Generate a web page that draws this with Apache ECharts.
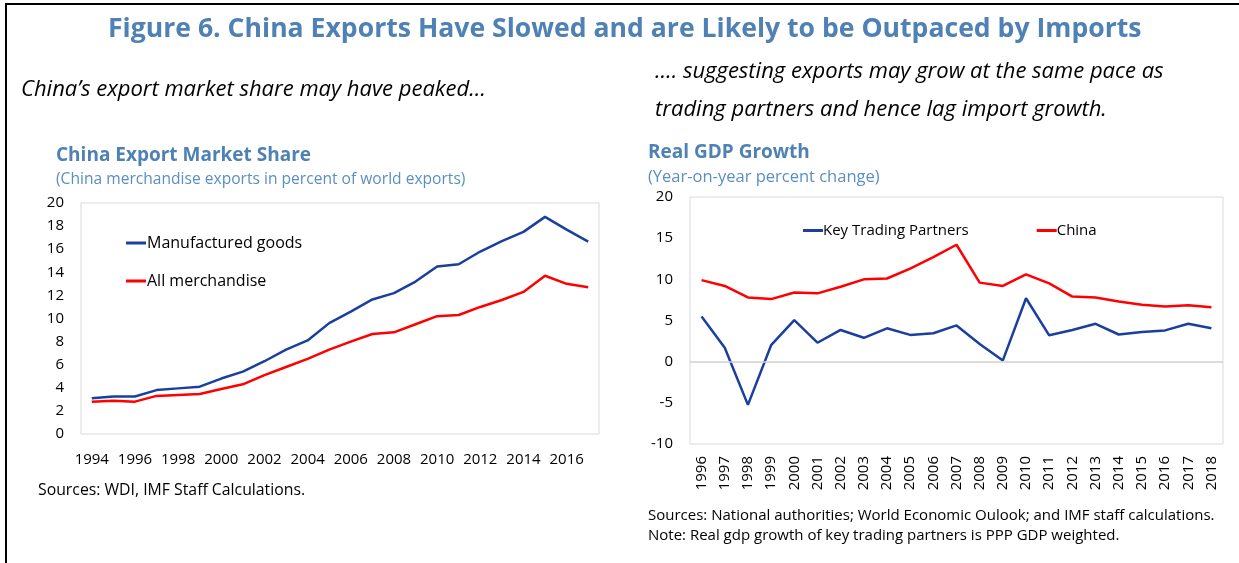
<!DOCTYPE html>
<html>
<head>
<meta charset="utf-8">
<script src="https://cdn.jsdelivr.net/npm/echarts@6/dist/echarts.min.js"></script>
<style>
  html, body { margin: 0; padding: 0; background: #fff; }
  #chart { width: 1239px; height: 563px; }
</style>
</head>
<body>
<div id="chart"></div>
<script>
// left chart: export market share
const shareYears = ['1994','1995','1996','1997','1998','1999','2000','2001','2002','2003','2004','2005',
  '2006','2007','2008','2009','2010','2011','2012','2013','2014','2015','2016','2017']
const manufactured = [3.1, 3.25, 3.25, 3.8, 3.95, 4.1, 4.8, 5.4, 6.3, 7.3, 8.1, 9.6,
  10.6, 11.65, 12.2, 13.2, 14.5, 14.7, 15.8, 16.7, 17.5, 18.8, 17.7, 16.65]
const allMerch = [2.8, 2.88, 2.8, 3.3, 3.38, 3.46, 3.9, 4.3, 5.1, 5.8, 6.5, 7.3,
  8.0, 8.66, 8.8, 9.5, 10.2, 10.3, 11.0, 11.6, 12.3, 13.7, 13.0, 12.7]

// right chart: real gdp growth
const gdpYears = ['1996','1997','1998','1999','2000','2001','2002','2003','2004','2005','2006','2007',
  '2008','2009','2010','2011','2012','2013','2014','2015','2016','2017','2018']
const tradingPartners = [5.5, 1.7, -5.25, 2.0, 5.05, 2.3, 3.85, 2.9, 4.05, 3.25, 3.45, 4.4,
  2.15, 0.15, 7.7, 3.2, 3.85, 4.6, 3.3, 3.6, 3.8, 4.6, 4.05]
const chinaGdp = [9.9, 9.2, 7.8, 7.6, 8.4, 8.3, 9.1, 10.0, 10.1, 11.3, 12.7, 14.2,
  9.6, 9.2, 10.6, 9.5, 7.9, 7.8, 7.3, 6.9, 6.7, 6.85, 6.6]

const FONT = '"Open Sans", "Noto Sans", sans-serif'
const TITLE_BLUE = '#4f81b4'
const SUB_BLUE = '#5a8fc2'
const LINE_BLUE = '#1b3f9e'
const LINE_RED = '#ff0000'

const chart = echarts.init(document.getElementById('chart'))

function txt(text, left, top, size, opts) {
  return Object.assign({
    text: text,
    left: left,
    top: top,
    padding: 0,
    textStyle: Object.assign({
      fontFamily: FONT,
      fontSize: size,
      fontWeight: 'normal',
      color: '#000',
      lineHeight: Math.round(size * 1.3)
    }, (opts && opts.style) || {})
  }, (opts && opts.extra) || {})
}

const axisText = { fontFamily: FONT, fontSize: 15, color: '#000' }

chart.setOption({
  animation: false,
  title: [
    txt('Figure 6. China Exports Have Slowed and are Likely to be Outpaced by Imports', 108, 12, 26.6,
      { style: { fontWeight: 'bold', color: TITLE_BLUE, lineHeight: 34 } }),
    txt('China\u2019s export market share may have peaked\u2026', 21, 75, 22,
      { style: { fontStyle: 'italic', lineHeight: 29 } }),
    txt('\u2026. suggesting exports may grow at the same pace as\ntrading partners and hence lag import growth.', 655, 53, 22,
      { style: { fontStyle: 'italic', lineHeight: 38 } }),
    txt('China Export Market Share', 56, 143, 19, { style: { fontWeight: 'bold', color: TITLE_BLUE } }),
    txt('(China merchandise exports in percent of world exports)', 56, 170, 15.6, { style: { color: SUB_BLUE, lineHeight: 20 } }),
    txt('Real GDP Growth', 648, 140, 19, { style: { fontWeight: 'bold', color: TITLE_BLUE } }),
    txt('(Year-on-year percent change)', 648, 167, 16.5, { style: { color: SUB_BLUE, lineHeight: 20 } }),
    txt('Sources: WDI, IMF Staff Calculations.', 38, 480, 15.8, { style: { lineHeight: 20 } }),
    txt('Sources: National authorities; World Economic Oulook; and IMF staff calculations.\nNote: Real gdp growth of key trading partners is PPP GDP weighted.', 648, 506, 15,
      { style: { lineHeight: 20 } })
  ],
  graphic: [
    { type: 'line', shape: { x1: 5, y1: 4, x2: 1239, y2: 4 }, style: { stroke: '#000', lineWidth: 2 } },
    { type: 'line', shape: { x1: 6, y1: 4, x2: 6, y2: 563 }, style: { stroke: '#000', lineWidth: 2 } }
  ],
  legend: [
    {
      orient: 'vertical',
      left: 126,
      top: 235,
      itemWidth: 20,
      itemHeight: 3,
      itemGap: 22,
      icon: 'rect',
      padding: 0,
      textStyle: { fontFamily: FONT, fontSize: 16, color: '#000', padding: [0, 0, 0, -4] },
      data: ['Manufactured goods', 'All merchandise']
    },
    {
      orient: 'horizontal',
      left: 803,
      top: 223,
      itemWidth: 20,
      itemHeight: 3,
      itemGap: 68,
      icon: 'rect',
      padding: 0,
      textStyle: { fontFamily: FONT, fontSize: 15, color: '#000', padding: [0, 0, 0, -5] },
      data: ['Key Trading Partners', 'China']
    }
  ],
  grid: [
    { left: 81, top: 203, width: 518, height: 231, show: true, borderColor: '#d9d9d9', borderWidth: 1 },
    { left: 690, top: 197, width: 533, height: 247, show: true, borderColor: '#d9d9d9', borderWidth: 1 }
  ],
  xAxis: [
    {
      type: 'category',
      gridIndex: 0,
      data: shareYears,
      boundaryGap: true,
      axisLine: { show: false },
      axisTick: { show: false },
      axisLabel: Object.assign({ interval: 1, margin: 18 }, axisText)
    },
    {
      type: 'category',
      gridIndex: 1,
      data: gdpYears,
      boundaryGap: true,
      axisLine: { show: false },
      axisTick: { show: false },
      axisLabel: Object.assign({ interval: 0, rotate: 90, margin: 12 }, axisText)
    }
  ],
  yAxis: [
    {
      type: 'value',
      gridIndex: 0,
      min: 0,
      max: 20,
      interval: 2,
      splitLine: { show: false },
      axisLine: { show: false },
      axisTick: { show: false },
      axisLabel: Object.assign({ margin: 17 }, axisText)
    },
    {
      type: 'value',
      gridIndex: 1,
      min: -10,
      max: 20,
      interval: 5,
      splitLine: { show: false },
      axisLine: { show: false },
      axisTick: { show: false },
      axisLabel: Object.assign({ margin: 17 }, axisText)
    }
  ],
  series: [
    {
      name: 'Manufactured goods', type: 'line', xAxisIndex: 0, yAxisIndex: 0,
      data: manufactured, symbol: 'none', color: LINE_BLUE, lineStyle: { width: 2.5, color: LINE_BLUE }
    },
    {
      name: 'All merchandise', type: 'line', xAxisIndex: 0, yAxisIndex: 0,
      data: allMerch, symbol: 'none', color: LINE_RED, lineStyle: { width: 2.5, color: LINE_RED }
    },
    {
      name: 'Key Trading Partners', type: 'line', xAxisIndex: 1, yAxisIndex: 1,
      data: tradingPartners, symbol: 'none', color: LINE_BLUE, lineStyle: { width: 2.5, color: LINE_BLUE },
      markLine: {
        silent: true,
        symbol: 'none',
        label: { show: false },
        lineStyle: { color: '#d0d0d0', width: 1.5, type: 'solid' },
        data: [{ yAxis: 0 }]
      }
    },
    {
      name: 'China', type: 'line', xAxisIndex: 1, yAxisIndex: 1,
      data: chinaGdp, symbol: 'none', color: LINE_RED, lineStyle: { width: 2.5, color: LINE_RED }
    }
  ]
})
</script>
</body>
</html>
